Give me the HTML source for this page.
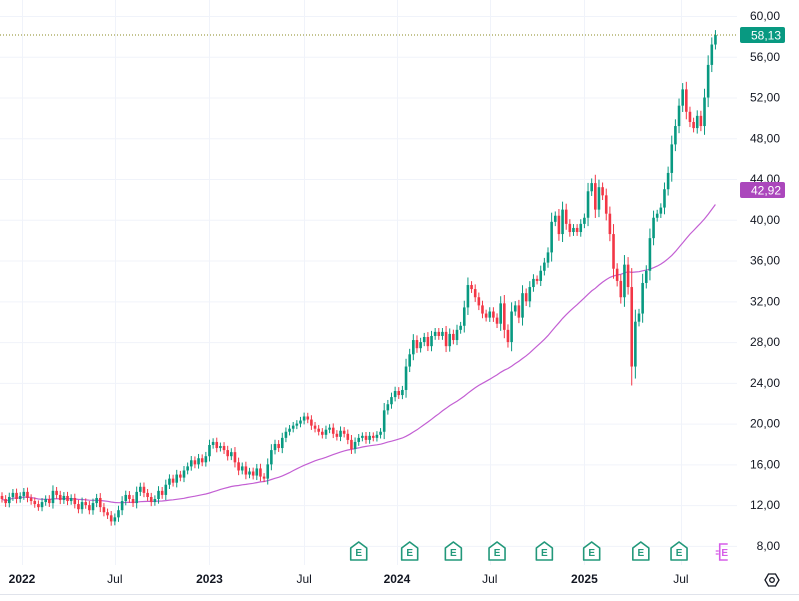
<!DOCTYPE html>
<html><head><meta charset="utf-8"><style>
html,body{margin:0;padding:0;background:#fff;width:799px;height:601px;overflow:hidden}
svg{display:block;font-family:"Liberation Sans",sans-serif}
</style></head><body>
<svg id="chart" width="799" height="601" viewBox="0 0 799 601" xmlns="http://www.w3.org/2000/svg">
<g id="grid"></g>
<g id="ma"></g>
<g id="candles"></g>
<g id="yaxis"></g>
<g id="xaxis"></g>
<g id="events"></g>
<line x1="0" y1="594.5" x2="799" y2="594.5" stroke="#e0e3eb"/>
<g transform="translate(772,580)">
<polygon points="-7,0 -3.5,-6 3.5,-6 7,0 3.5,6 -3.5,6" fill="none" stroke="#131722" stroke-width="1.3"/>
<circle r="2.3" fill="none" stroke="#131722" stroke-width="1.3"/>
</g>
</svg>
<script>
const closes = [
12.6,12.2,12.8,13.2,12.6,12.9,13.3,12.7,12.4,12.1,
11.8,12.3,12.6,12.2,13.4,13.0,12.5,12.9,12.4,12.7,
12.1,11.6,12.3,12.0,11.5,12.2,12.7,11.8,11.3,11.0,
10.4,10.8,11.5,12.4,13.0,12.6,12.2,13.3,13.8,13.2,
12.8,12.3,12.6,13.4,13.0,14.0,14.6,14.2,15.0,14.7,
15.4,15.8,16.4,16.0,16.6,16.2,16.8,17.9,18.2,17.6,
17.8,17.4,16.8,17.2,16.2,15.4,15.8,15.0,15.3,14.9,
15.6,14.8,14.6,16.0,17.4,18.0,17.6,18.6,19.2,19.5,
19.8,20.0,20.3,20.7,20.4,19.8,19.5,19.2,18.9,19.4,
19.6,19.0,18.7,19.3,19.0,18.4,17.5,18.2,18.6,18.8,
18.4,18.8,18.6,18.9,19.2,21.3,21.9,22.6,23.2,22.8,
23.3,25.6,26.8,28.2,27.4,28.0,28.5,27.6,28.6,29.0,
28.6,29.0,27.6,28.8,28.2,29.2,29.6,31.4,33.6,33.2,
32.4,31.6,30.8,30.4,31.0,30.4,29.8,31.8,29.2,28.0,
31.0,31.6,30.4,32.8,32.0,33.4,34.2,34.0,35.0,35.8,
36.8,39.8,40.4,38.6,41.0,39.6,38.8,39.2,38.8,39.6,
40.2,42.8,43.6,41.0,43.2,42.4,40.6,38.6,35.2,34.0,
32.4,35.6,33.4,25.6,30.0,30.8,33.8,35.0,38.2,40.2,
40.6,41.2,43.0,44.6,47.4,49.2,51.2,52.8,
50.6,49.6,49.0,50.2,49.2,52.0,55.2,57.2,58.13
];
const firstOpen = 12.9;
const priceTicks = [60,56,52,48,44,40,36,32,28,24,20,16,12,8];
const timeLabels = ["2022","Jul","2023","Jul","2024","Jul","2025","Jul"];
const timeLabelWeeks = [5.5,31,57,83,108.5,134,160,186.5];
const earningsWeeks = [98,112,124,136,149,162,175.5,186];
const upcomingEarningsWeek = 198;
const maPeriod = 50;
const lastPrice = 58.13;
const maLabel = "42,92";

const NS="http://www.w3.org/2000/svg";
const yOf = p => 16 + (60 - p) * 10.19;
const xOf = i => 2 + i * 3.64;
const plotW = 737;
function mk(tag, attrs, parent){const e=document.createElementNS(NS,tag);for(const k in attrs)e.setAttribute(k,attrs[k]);parent.appendChild(e);return e;}
const G=id=>document.getElementById(id);

priceTicks.forEach(p=>{
  const l=mk('line',{x1:0,x2:plotW,y1:yOf(p)+0.5,y2:yOf(p)+0.5,stroke:'#f0f3fa'},G('grid'));
  
  
});
timeLabelWeeks.forEach(w=>{
  const l=mk('line',{x1:Math.round(xOf(w))+0.5,x2:Math.round(xOf(w))+0.5,y1:0,y2:565,stroke:'#f0f3fa'},G('grid'));
  
  
});

priceTicks.forEach(p=>{
  const t=mk('text',{x:780,y:yOf(p)+4,'text-anchor':'end','font-size':'12',fill:'#131722'},G('yaxis'));
  t.textContent=p.toFixed(2).replace('.',',');
  
  
});
timeLabels.forEach((s,i)=>{
  const t=mk('text',{x:xOf(timeLabelWeeks[i]),y:583,'text-anchor':'middle','font-size':'12',fill:'#131722','font-weight':s==='Jul'?'normal':'bold'},G('xaxis'));
  t.textContent=s;
  
  
});

let pts=[];
for(let i=0;i<closes.length;i++){
  const s=Math.max(0,i-maPeriod+1);let sum=0;for(let j=s;j<=i;j++)sum+=closes[j];
  pts.push(xOf(i).toFixed(1)+','+yOf(sum/(i-s+1)).toFixed(1));
}
const ma=mk('polyline',{points:pts.join(' '),fill:'none',stroke:'#c35fd3','stroke-width':'1.2'},G('ma'));



closes.forEach((c,i)=>{
  const o = i===0?firstOpen:closes[i-1];
  const up=c>=o, col=up?'#089981':'#f23645';
  const w=0.3+0.2*Math.abs(c-o);
  const hi=Math.max(o,c)+w, lo=Math.min(o,c)-w;
  const x=xOf(i);
  const g=mk('g',{},G('candles'));
  
  
  mk('line',{x1:x,x2:x,y1:yOf(hi),y2:yOf(lo),stroke:col,'stroke-width':'1'},g);
  const top=yOf(Math.max(o,c)),bot=yOf(Math.min(o,c));
  mk('rect',{x:x-1.3,y:top,width:2.6,height:Math.max(1,bot-top),fill:col},g);
});

const ly=yOf(lastPrice);
const dl=mk('line',{x1:0,x2:plotW,y1:ly,y2:ly,stroke:'#8a8a20','stroke-dasharray':'1,2'},G('yaxis'));


function badge(y,txt,col,name){
  const g=mk('g',{},G('yaxis'));
  
  
  mk('rect',{x:740,y:y-8,width:45,height:16,rx:2,fill:col},g);
  const t=mk('text',{x:781,y:y+4.5,'text-anchor':'end','font-size':'12',fill:'#fff'},g);
  t.textContent=txt;
}
badge(ly,lastPrice.toFixed(2).replace('.',','),'#089981','last-price-label');
badge(yOf(42.92),maLabel,'#ab47bc','ma-value-label');

function earn(x,col,name,future){
  const g=mk('g',{transform:`translate(${x},552)`},G('events'));
  
  
  if(future){
    mk('path',{d:'M3,-8 H-5 V8 H3',fill:'none',stroke:col,'stroke-width':'1.6'},g);
    mk('path',{d:'M-9,-1 H-6 M-9,2 H-6',stroke:col,'stroke-width':'1.2'},g);
  } else {
    mk('path',{d:'M-8,-4 L0,-10 L8,-4 V8 H-8 Z',fill:'#fff',stroke:col,'stroke-width':'1.6','stroke-linejoin':'round'},g);
  }
  const t=mk('text',{x:0,y:4,'text-anchor':'middle','font-size':'10','font-weight':'bold',fill:col},g);
  t.textContent='E';
}
earningsWeeks.forEach(w=>earn(xOf(w),'#22987a','earnings-marker',false));
earn(xOf(upcomingEarningsWeek)+2,'#d65ce8','upcoming-earnings-marker',true);
</script>
</body></html>
